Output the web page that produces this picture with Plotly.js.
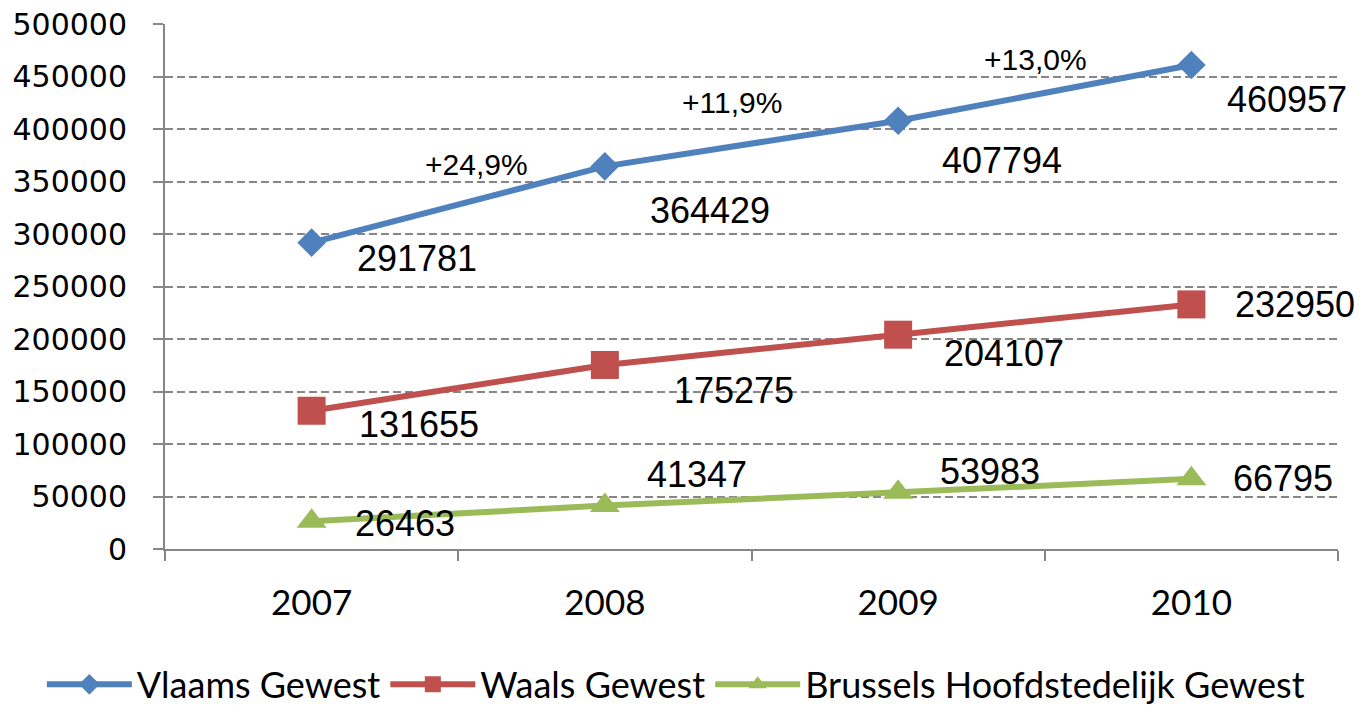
<!DOCTYPE html>
<html>
<head>
<meta charset="utf-8">
<script src="https://cdn.plot.ly/plotly-3.0.1.min.js"></script>
<style>
  html, body { margin: 0; padding: 0; background: #fff; }
  #chart { width: 1361px; height: 710px; }
</style>
</head>
<body>
<div id="chart"></div>
<script>
// jaren en reeksen
const years = ['2007', '2008', '2009', '2010'];
const vlaams = [291781, 364429, 407794, 460957];
const waals = [131655, 175275, 204107, 232950];
const brussel = [26463, 41347, 53983, 66795];
const groei = ['+24,9%', '+11,9%', '+13,0%'];

// offsets van de labels t.o.v. het punt (px), zoals in het origineel verschoven
const labelShift = {
    vlaams: [[43, -16], [43, -44], [42, -40], [34, -34]],
    waals: [[45, -14], [67, -26], [44, -19], [42, 0]],
    brussel: [[41, -2], [40, 31], [40, 21], [40, 0]]
};
const groeiShift = [[18, 40], [-20, 41], [-9, 33]];

const series = [
    { name: 'Vlaams Gewest', values: vlaams, key: 'vlaams', color: '#4F81BD', symbol: 'diamond', size: 22 },
    { name: 'Waals Gewest', values: waals, key: 'waals', color: '#C0504D', symbol: 'square', size: 28 },
    { name: 'Brussels Hoofdstedelijk Gewest', values: brussel, key: 'brussel', color: '#9BBB59', symbol: 'triangle-up', size: 26 }
];

const traces = series.map(s => ({
    x: years,
    y: s.values,
    type: 'scatter',
    mode: 'lines+markers',
    name: s.name,
    line: { color: s.color, width: 6 },
    marker: { color: s.color, symbol: s.symbol, size: s.size, line: { width: 0 } },
    hoverinfo: 'x+y+name'
}));

const labelFont = { family: 'Liberation Sans, Arial, sans-serif', size: 36, color: '#000' };

const annotations = [];
series.forEach(s => {
    s.values.forEach((v, i) => {
        annotations.push({
            x: i, y: v, xref: 'x', yref: 'y',
            text: String(v), showarrow: false,
            xanchor: 'left', yanchor: 'middle',
            xshift: labelShift[s.key][i][0], yshift: labelShift[s.key][i][1],
            font: labelFont
        });
    });
});
groei.forEach((g, i) => {
    annotations.push({
        x: i + 0.5, y: (vlaams[i] + vlaams[i + 1]) / 2, xref: 'x', yref: 'y',
        text: g, showarrow: false,
        xanchor: 'center', yanchor: 'middle',
        xshift: groeiShift[i][0], yshift: groeiShift[i][1],
        font: { family: 'Liberation Sans, Arial, sans-serif', size: 30, color: '#000' }
    });
});

const layout = {
    width: 1361,
    height: 710,
    margin: { l: 165, r: 23, t: 24, b: 161, autoexpand: false },
    paper_bgcolor: '#fff',
    plot_bgcolor: '#fff',
    showlegend: true,
    legend: {
        orientation: 'h',
        x: -0.105, xanchor: 'left',
        y: -0.258, yanchor: 'middle',
        font: { family: 'Lato, sans-serif', size: 36, color: '#000' },
        itemwidth: 85
    },
    xaxis: {
        type: 'category',
        range: [-0.5, 3.5],
        showline: true, linecolor: '#868686', linewidth: 2,
        ticks: 'outside', tickson: 'boundaries', ticklen: 10, tickwidth: 2, tickcolor: '#868686',
        showgrid: false, zeroline: false,
        tickfont: { family: 'Lato, sans-serif', size: 35, color: '#000' },
        ticklabelstandoff: 22
    },
    yaxis: {
        range: [0, 500000],
        dtick: 50000,
        tickformat: 'd',
        showline: true, linecolor: '#868686', linewidth: 2,
        ticks: 'outside', ticklen: 10, tickwidth: 2, tickcolor: '#868686',
        showgrid: true, gridcolor: '#868686', gridwidth: 2, griddash: '8px,4px',
        zeroline: false,
        tickfont: { family: 'DejaVu Sans, sans-serif', size: 30, color: '#000' },
        ticklabelstandoff: 20
    },
    annotations: annotations
};

Plotly.newPlot('chart', traces, layout, { displayModeBar: false, staticPlot: true });
</script>
</body>
</html>
